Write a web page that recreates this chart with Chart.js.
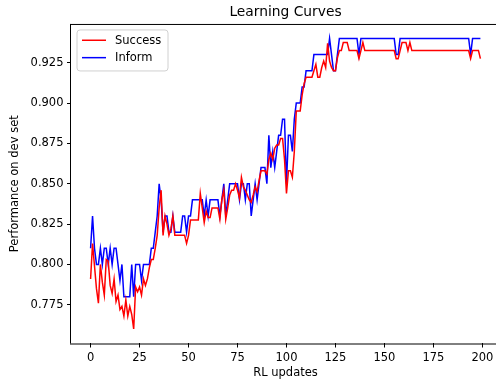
<!DOCTYPE html>
<html>
<head>
<meta charset="utf-8">
<script src="https://cdn.jsdelivr.net/npm/chart.js@4.4.1/dist/chart.umd.min.js"></script>
<style>
html,body{margin:0;padding:0;overflow:hidden;background:#fff;}
canvas{display:block;}
</style>
</head>
<body>
<canvas id="c" width="500" height="385"></canvas>
<script>
const updates = Array.from({length: 200}, (_, i) => i);

const inform = [
0.81,0.83,0.81,0.80,0.80,0.81,0.80,0.81,0.81,0.80,
0.81,0.80,0.81,0.81,0.80,0.79,0.80,0.78,0.78,0.78,
0.78,0.80,0.78,0.80,0.80,0.80,0.79,0.80,0.80,0.80,
0.80,0.81,0.81,0.82,0.83,0.85,0.84,0.82,0.83,0.83,
0.82,0.82,0.83,0.82,0.82,0.82,0.82,0.83,0.83,0.82,
0.83,0.83,0.84,0.84,0.84,0.84,0.84,0.84,0.83,0.84,
0.83,0.84,0.84,0.84,0.84,0.84,0.83,0.84,0.85,0.83,
0.84,0.85,0.85,0.85,0.85,0.85,0.84,0.85,0.85,0.84,
0.85,0.85,0.83,0.84,0.85,0.84,0.85,0.86,0.86,0.86,
0.85,0.88,0.86,0.87,0.86,0.87,0.88,0.88,0.89,0.89,
0.85,0.88,0.88,0.87,0.89,0.90,0.90,0.90,0.91,0.91,
0.92,0.92,0.92,0.92,0.93,0.93,0.93,0.93,0.93,0.93,
0.93,0.93,0.94,0.93,0.92,0.92,0.93,0.94,0.94,0.94,
0.94,0.94,0.94,0.94,0.94,0.94,0.94,0.93,0.94,0.94,
0.94,0.94,0.94,0.94,0.94,0.94,0.94,0.94,0.94,0.94,
0.94,0.94,0.94,0.94,0.94,0.94,0.93,0.93,0.94,0.94,
0.94,0.94,0.94,0.94,0.94,0.94,0.94,0.94,0.94,0.94,
0.94,0.94,0.94,0.94,0.94,0.94,0.94,0.94,0.94,0.94,
0.94,0.94,0.94,0.94,0.94,0.94,0.94,0.94,0.94,0.94,
0.94,0.94,0.94,0.94,0.93,0.94,0.94,0.94,0.94,0.94
];

const success = [
0.791,0.813,0.799,0.785,0.776,0.800,0.789,0.781,0.803,0.802,
0.787,0.782,0.791,0.777,0.781,0.772,0.774,0.768,0.778,0.768,
0.774,0.769,0.760,0.786,0.783,0.786,0.781,0.791,0.787,0.791,
0.798,0.803,0.803,0.810,0.818,0.835,0.846,0.818,0.830,0.825,
0.818,0.822,0.830,0.818,0.818,0.818,0.818,0.818,0.818,0.813,
0.818,0.8275,0.8275,0.8275,0.8275,0.8275,0.844,0.835,0.826,0.833,
0.829,0.829,0.835,0.835,0.835,0.835,0.828,0.840,0.846,0.828,
0.835,0.843,0.846,0.846,0.850,0.846,0.841,0.854,0.848,0.846,
0.843,0.840,0.8385,0.843,0.848,0.845,0.852,0.858,0.858,0.858,
0.856,0.865,0.869,0.865,0.872,0.874,0.874,0.878,0.878,0.865,
0.844,0.858,0.858,0.854,0.870,0.895,0.895,0.895,0.905,0.912,
0.916,0.916,0.916,0.916,0.920,0.924,0.916,0.916,0.922,0.926,
0.922,0.937,0.926,0.922,0.920,0.920,0.928,0.9325,0.9325,0.9375,
0.9375,0.9375,0.9325,0.9325,0.9325,0.9325,0.9325,0.9275,0.9325,0.9375,
0.9325,0.9325,0.9325,0.9325,0.9325,0.9325,0.9325,0.9325,0.9325,0.9325,
0.9325,0.9325,0.9325,0.9325,0.9325,0.9325,0.9275,0.9275,0.9325,0.9375,
0.9375,0.9375,0.9325,0.9375,0.9325,0.9325,0.9325,0.9325,0.9325,0.9325,
0.9325,0.9325,0.9325,0.9325,0.9325,0.9325,0.9325,0.9325,0.9325,0.9325,
0.9325,0.9325,0.9325,0.9325,0.9325,0.9325,0.9325,0.9325,0.9325,0.9325,
0.9325,0.9325,0.9325,0.9325,0.9275,0.9325,0.9325,0.9325,0.9325,0.9275
];

const xTicks = [0, 25, 50, 75, 100, 125, 150, 175, 200];
const yTicks = [0.775, 0.800, 0.825, 0.850, 0.875, 0.900, 0.925];
const seriesNames = ['Success', 'Inform'];
const seriesColors = ['#ff0000', '#0000ff'];

const FONT = 'DejaVu Sans';
const FS = 11.5;

const framePlugin = {
  id: 'frame',
  afterDatasetsDraw(chart) {
    const {ctx, chartArea: a} = chart;
    ctx.save();
    ctx.strokeStyle = '#000';
    ctx.lineWidth = 1;
    ctx.beginPath();
    ctx.moveTo(a.left - 0.5, a.top);
    ctx.lineTo(a.left - 0.5, a.bottom);
    ctx.moveTo(a.left - 1, a.bottom + 0.5);
    ctx.lineTo(a.right + 1, a.bottom + 0.5);
    ctx.moveTo(a.left - 1, a.top + 0.5);
    ctx.lineTo(a.right + 1, a.top + 0.5);
    ctx.moveTo(a.right - 0.5, a.top);
    ctx.lineTo(a.right - 0.5, a.bottom);
    ctx.stroke();
    ctx.restore();
  }
};

const legendPlugin = {
  id: 'mplLegend',
  afterDraw(chart) {
    const {ctx, chartArea: a} = chart;
    const x = a.left + 6, y = a.top + 6, w = 91, h = 41, r = 3;
    ctx.save();
    ctx.beginPath();
    ctx.moveTo(x + r, y);
    ctx.lineTo(x + w - r, y);
    ctx.arcTo(x + w, y, x + w, y + r, r);
    ctx.lineTo(x + w, y + h - r);
    ctx.arcTo(x + w, y + h, x + w - r, y + h, r);
    ctx.lineTo(x + r, y + h);
    ctx.arcTo(x, y + h, x, y + h - r, r);
    ctx.lineTo(x, y + r);
    ctx.arcTo(x, y, x + r, y, r);
    ctx.closePath();
    ctx.fillStyle = 'rgba(255,255,255,0.8)';
    ctx.fill();
    ctx.strokeStyle = '#d0d0d0';
    ctx.lineWidth = 1;
    ctx.stroke();
    chart.data.datasets.forEach((ds, i) => {
      const cy = y + 10.3 + i * 17.4;
      ctx.beginPath();
      ctx.strokeStyle = ds.borderColor;
      ctx.lineWidth = 1.5;
      ctx.moveTo(x + 5, cy);
      ctx.lineTo(x + 29, cy);
      ctx.stroke();
      ctx.fillStyle = '#000';
      ctx.font = FS + 'px "' + FONT + '"';
      ctx.textBaseline = 'middle';
      ctx.textAlign = 'left';
      ctx.fillText(ds.label, x + 38, cy + 0.5);
    });
    ctx.restore();
  }
};

new Chart(document.getElementById('c'), {
  type: 'line',
  data: {
    datasets: [
      {
        label: seriesNames[0],
        data: updates.map((u, i) => ({x: u, y: success[i]})),
        borderColor: seriesColors[0],
        borderWidth: 1.5,
        pointRadius: 0,
        tension: 0,
        fill: false
      },
      {
        label: seriesNames[1],
        data: updates.map((u, i) => ({x: u, y: inform[i]})),
        borderColor: seriesColors[1],
        borderWidth: 1.5,
        pointRadius: 0,
        tension: 0,
        fill: false
      }
    ]
  },
  options: {
    responsive: false,
    animation: false,
    devicePixelRatio: 1,
    layout: {padding: 0},
    plugins: {
      legend: {display: false},
      tooltip: {enabled: false},
      title: {
        display: true,
        text: 'Learning Curves',
        fullSize: false,
        color: '#000',
        font: {family: FONT, size: 13.8, weight: 'normal'},
        padding: {top: 3.7, bottom: 3.7}
      }
    },
    scales: {
      x: {
        type: 'linear',
        min: -10,
        max: 209,
        afterFit(scale) { scale.height = 41.5; },
        afterBuildTicks(scale) { scale.ticks = xTicks.map(v => ({value: v})); },
        border: {display: false},
        grid: {drawOnChartArea: false, drawTicks: true, tickLength: 4, color: '#000', lineWidth: 1},
        ticks: {
          color: '#000',
          font: {family: FONT, size: FS},
          padding: 3.4,
          maxRotation: 0,
          autoSkip: false,
          callback: v => String(v)
        },
        title: {
          display: true,
          text: 'RL updates',
          color: '#000',
          font: {family: FONT, size: FS},
          padding: {top: 0, bottom: 5.1}
        }
      },
      y: {
        type: 'linear',
        min: 0.751,
        max: 0.949,
        afterFit(scale) { scale.width = 71; },
        afterBuildTicks(scale) { scale.ticks = yTicks.map(v => ({value: v})); },
        border: {display: false},
        grid: {drawOnChartArea: false, drawTicks: true, tickLength: 4, color: '#000', lineWidth: 1},
        ticks: {
          color: '#000',
          font: {family: FONT, size: FS},
          padding: 3.5,
          autoSkip: false,
          callback: v => Number(v).toFixed(3)
        },
        title: {
          display: true,
          text: 'Performance on dev set',
          color: '#000',
          font: {family: FONT, size: FS},
          padding: {top: 8.1, bottom: 0}
        }
      }
    }
  },
  plugins: [framePlugin, legendPlugin]
});
</script>
</body>
</html>
